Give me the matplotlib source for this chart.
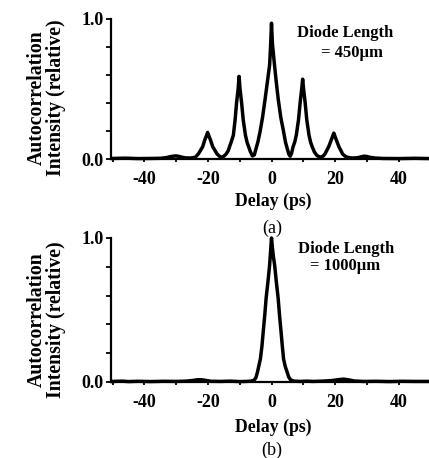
import matplotlib

matplotlib.use("Agg")
import matplotlib.pyplot as plt

plt.rcParams["font.family"] = ["Liberation Serif", "DejaVu Serif"]

# panel (a): diode length 450 um
delay_a = [
    -50, -46, -42, -38, -35, -33, -32, -31, -30, -29, -28, -27, -25.5, -24,
    -22.9, -21.65, -21.0, -20.5, -20.1, -19.7, -19.2, -18.5, -17.1, -16.3, -15.6,
    -15.0, -14.3, -13.6, -13.2, -12.7, -12.0, -11.45, -11.0, -10.5, -10.2,
    -9.9, -9.4, -8.9, -8.2, -7.7, -7.2, -6.6, -6.0, -5.4, -4.85,
    -4.3, -3.6, -2.8, -2.0, -1.3, -0.6, -0.3, 0.0,
    0.3, 0.95, 1.5, 2.1, 2.9, 3.8, 4.4, 5.0, 5.5, 5.9, 6.3, 6.8,
    7.3, 7.8, 8.5, 9.0, 9.5, 9.8, 10.1, 10.6, 11.1, 11.8, 12.3, 12.8,
    13.5, 14.3, 15.0, 15.6, 16.2, 16.8, 18.0, 18.7, 19.2, 19.6, 20.0, 20.5,
    21.2, 22.4, 23.4, 24.5, 25.5, 27, 28, 29, 30, 31, 32.5, 35, 40, 45, 50,
]
intensity_a = [
    0.004, 0.006, 0.003, 0.004, 0.005, 0.010, 0.016, 0.020, 0.022, 0.018, 0.012, 0.008, 0.007, 0.012,
    0.040, 0.088, 0.136, 0.165, 0.190, 0.165, 0.136, 0.088, 0.035, 0.018, 0.014,
    0.020, 0.035, 0.060, 0.088, 0.120, 0.170, 0.280, 0.400, 0.500, 0.590,
    0.500, 0.400, 0.280, 0.170, 0.120, 0.088, 0.050, 0.022, 0.030, 0.076,
    0.120, 0.195, 0.300, 0.430, 0.550, 0.670, 0.800, 0.970,
    0.820, 0.670, 0.550, 0.430, 0.300, 0.195, 0.120, 0.070, 0.032, 0.020, 0.040, 0.088,
    0.120, 0.170, 0.280, 0.400, 0.500, 0.570, 0.500, 0.400, 0.280, 0.170, 0.120, 0.088,
    0.050, 0.025, 0.016, 0.014, 0.020, 0.035, 0.088, 0.130, 0.160, 0.185, 0.160, 0.130,
    0.088, 0.035, 0.016, 0.009, 0.007, 0.009, 0.014, 0.020, 0.018, 0.012, 0.007, 0.004, 0.003, 0.005, 0.003,
]

# panel (b): diode length 1000 um
delay_b = [
    -50, -47, -45, -42, -38, -34, -30, -27, -25, -23.5, -22, -20.5, -19, -16, -13, -10, -8,
    -6.5, -5.5, -4.9, -4.4, -3.9, -3.5, -3.0, -2.6, -2.1, -1.7, -1.1, -0.6, -0.25, 0.0,
    0.3, 0.6, 1.0, 1.5, 2.1, 2.5, 3.0, 3.4, 3.8, 4.3, 4.9, 5.4, 6.0, 7.0,
    9, 11, 13, 16, 19, 21, 22.7, 24.5, 26, 29, 33, 37, 41, 45, 50,
]
intensity_b = [
    0.004, 0.006, 0.003, 0.005, 0.003, 0.005, 0.004, 0.006, 0.010, 0.015, 0.016, 0.010, 0.005, 0.004, 0.006, 0.003, 0.004,
    0.006, 0.012, 0.030, 0.070, 0.120, 0.160, 0.250, 0.350, 0.470, 0.580, 0.700, 0.810, 0.920, 1.000,
    0.930, 0.870, 0.810, 0.700, 0.580, 0.470, 0.350, 0.250, 0.160, 0.110, 0.070, 0.035, 0.015, 0.006,
    0.004, 0.006, 0.004, 0.006, 0.010, 0.016, 0.020, 0.014, 0.007, 0.004, 0.005, 0.003, 0.005, 0.004, 0.004,
]

x_ticks = [-50, -40, -30, -20, -10, 0, 10, 20, 30, 40, 50]
x_labels = ["", "-40", "", "-20", "", "0", "", "20", "", "40", ""]
y_ticks = [0.0, 0.2, 0.4, 0.6, 0.8, 1.0]
y_labels = ["0.0", "", "", "", "", "1.0"]

panels = [
    (delay_a, intensity_a, "= 450\u03bcm", "(a)"),
    (delay_b, intensity_b, "= 1000\u03bcm", "(b)"),
]

W, H = 429, 458


def fx(px):
    return px / W


def fy(py):
    return 1 - py / H


fig = plt.figure(figsize=(W / 100, H / 100), dpi=100)

# pixel layout of each panel: y of 1.0, y of 0.0, ylabel y, xlabel y, tag y, title rows
layout = [
    (19, 159, 98, 201, 228, (297, 33), (352, 53)),
    (238, 382, 320, 427, 450, (298, 249), (345, 266)),
]

for (delay, intensity, length_text, tag), (top, bottom, ylab_y, xlab_y, tag_y, t1, t2) in zip(panels, layout):
    left, right = 111, 432
    ax = fig.add_axes([fx(left), fy(bottom), fx(right - left), (bottom - top) / H])
    ax.plot(delay, intensity, color="black", lw=2.5, solid_joinstyle="round", clip_on=False)
    ax.set_xlim(-50.5, 50.5)
    ax.set_ylim(0, 1.0)
    for side in ("top", "right"):
        ax.spines[side].set_visible(False)
    for side in ("left", "bottom"):
        ax.spines[side].set_linewidth(1.6)
    ax.set_xticks(x_ticks)
    ax.set_xticklabels(x_labels, fontweight="bold", fontsize=13)
    ax.set_yticks(y_ticks)
    ax.set_yticklabels(y_labels, fontweight="bold", fontsize=13)
    ax.tick_params(axis="x", direction="out", length=2.5, width=1.3, pad=6)
    ax.tick_params(axis="y", direction="out", length=3.5, width=1.3, pad=2)

    fig.text(fx(46), fy(ylab_y), "Autocorrelation\nIntensity (relative)", rotation=90,
             ha="center", va="center", multialignment="center", linespacing=0.95,
             fontweight="bold", fontsize=14.2)
    fig.text(fx(273), fy(xlab_y), "Delay (ps)", ha="center", va="center",
             fontweight="bold", fontsize=12.8)
    fig.text(fx(272), fy(tag_y), tag, ha="center", va="center", fontsize=13)
    fig.text(fx(t1[0]), fy(t1[1]), "Diode Length", ha="left", va="center",
             fontweight="bold", fontsize=12)
    fig.text(fx(t2[0]), fy(t2[1]), length_text, ha="center", va="center",
             fontweight="bold", fontsize=12)

fig.savefig("out.png", dpi=100)
